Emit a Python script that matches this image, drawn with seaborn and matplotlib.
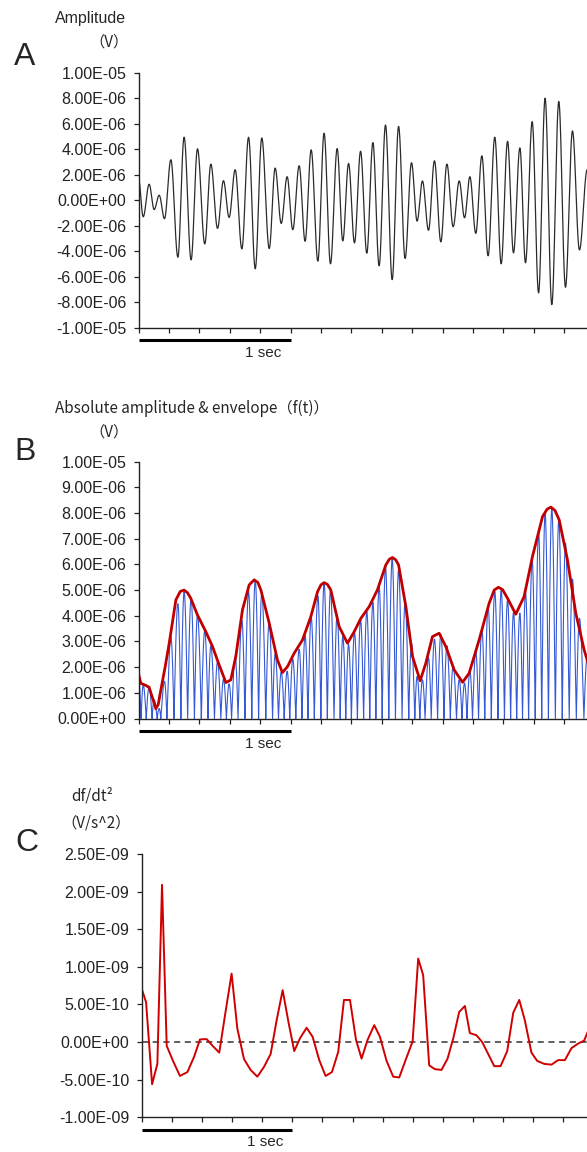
import numpy as np
import matplotlib
matplotlib.use("Agg")
import matplotlib.pyplot as plt
import matplotlib.transforms as mtransforms
from matplotlib.ticker import FuncFormatter, MultipleLocator
import seaborn as sns
import pandas as pd

sns.set_theme(style="ticks")
plt.rcParams['font.family'] = ['Liberation Sans', 'DejaVu Sans']
JP = ['Noto Sans CJK JP', 'DejaVu Sans']

# --- data ---
# A: extrema of the raw trace (time s, amplitude in 1e-6 V)
A_T = [0.000, 0.031, 0.070, 0.103, 0.136, 0.171, 0.213, 0.259, 0.300, 0.346, 0.388, 0.436,
       0.476, 0.520, 0.559, 0.596, 0.636, 0.680, 0.724, 0.768, 0.811, 0.860, 0.899, 0.939,
       0.978, 1.015, 1.057, 1.096, 1.136, 1.180, 1.221, 1.263, 1.307, 1.344, 1.382, 1.421,
       1.461, 1.502, 1.542, 1.583, 1.625, 1.669, 1.711, 1.754, 1.796, 1.833, 1.868, 1.908,
       1.947, 1.989, 2.029, 2.070, 2.110, 2.145, 2.180, 2.219, 2.259, 2.300, 2.344, 2.386,
       2.428, 2.467, 2.509, 2.546, 2.590, 2.632, 2.675, 2.719, 2.765, 2.809, 2.855, 2.901,
       2.952]
A_V = [1.69, -1.30, 1.25, -0.73, 0.39, -1.45, 3.17, -4.47, 4.94, -4.68, 4.03, -3.43,
       2.83, -2.21, 1.53, -1.35, 2.39, -3.82, 4.94, -5.38, 4.88, -3.79, 2.52, -1.82,
       1.84, -2.31, 2.70, -3.22, 3.95, -4.78, 5.25, -4.99, 4.05, -3.19, 2.88, -3.35,
       3.84, -4.16, 4.52, -5.14, 5.90, -6.23, 5.79, -4.57, 2.94, -1.64, 1.51, -2.36,
       3.09, -3.27, 2.83, -2.08, 1.51, -1.38, 1.84, -2.60, 3.48, -4.36, 4.94, -4.99,
       4.62, -4.13, 4.10, -4.91, 6.16, -7.27, 8.00, -8.18, 7.74, -6.83, 5.43, -3.90,
       2.40]

# B: envelope f(t) (time s, 1e-6 V)
ENV_T = [0.000, 0.015, 0.048, 0.070, 0.095, 0.114, 0.130, 0.147, 0.175, 0.202, 0.246, 0.275,
         0.300, 0.322, 0.344, 0.388, 0.443, 0.487, 0.531, 0.575, 0.607, 0.640, 0.684, 0.728,
         0.761, 0.785, 0.805, 0.860, 0.914, 0.947, 0.980, 1.024, 1.079, 1.134, 1.178, 1.200,
         1.221, 1.243, 1.265, 1.320, 1.375, 1.419, 1.463, 1.518, 1.572, 1.627, 1.650, 1.671,
         1.692, 1.711, 1.759, 1.803, 1.853, 1.890, 1.934, 1.978, 2.022, 2.077, 2.132, 2.175,
         2.241, 2.307, 2.340, 2.368, 2.395, 2.428, 2.482, 2.537, 2.592, 2.658, 2.688, 2.713,
         2.740, 2.768, 2.822, 2.877, 2.932, 2.965]
ENV_V = [1.75, 1.37, 1.29, 1.21, 0.75, 0.38, 0.55, 1.11, 2.00, 2.93, 4.62, 4.95,
         5.00, 4.90, 4.68, 4.03, 3.38, 2.80, 2.08, 1.40, 1.50, 2.41, 4.23, 5.20,
         5.40, 5.30, 5.01, 3.71, 2.28, 1.79, 2.02, 2.54, 3.06, 3.97, 4.94, 5.20,
         5.29, 5.22, 5.01, 3.58, 2.93, 3.38, 3.90, 4.36, 5.01, 5.98, 6.20, 6.27,
         6.18, 5.98, 4.36, 2.41, 1.47, 2.15, 3.19, 3.32, 2.80, 1.89, 1.41, 1.76,
         3.06, 4.49, 5.00, 5.11, 5.02, 4.68, 4.06, 4.75, 6.31, 7.86, 8.15, 8.23,
         8.10, 7.73, 6.18, 4.10, 2.67, 2.02]

# C: df/dt^2 (time s, 1e-10 V/s^2)
C_T = [0.000, 0.029, 0.069, 0.104, 0.135, 0.166, 0.210, 0.254, 0.303, 0.347, 0.387, 0.431,
       0.471, 0.515, 0.555, 0.597, 0.635, 0.679, 0.723, 0.768, 0.812, 0.856, 0.896, 0.936,
       0.976, 1.013, 1.051, 1.095, 1.135, 1.179, 1.221, 1.263, 1.305, 1.343, 1.383, 1.423,
       1.460, 1.500, 1.544, 1.582, 1.626, 1.670, 1.710, 1.754, 1.799, 1.836, 1.869, 1.909,
       1.947, 1.991, 2.031, 2.069, 2.108, 2.146, 2.179, 2.223, 2.261, 2.301, 2.341, 2.383,
       2.427, 2.467, 2.507, 2.544, 2.588, 2.626, 2.673, 2.721, 2.765, 2.810, 2.854, 2.898,
       2.938, 2.975]
C_V = [7.1, 5.3, -5.6, -2.9, 20.9, -0.5, -2.6, -4.5, -4.0, -2.0, 0.35, 0.4,
       -0.5, -1.4, 3.8, 9.1, 1.8, -2.25, -3.7, -4.6, -3.3, -1.6, 2.9, 6.9,
       2.5, -1.2, 0.5, 1.9, 0.7, -2.4, -4.5, -4.0, -1.3, 5.6, 5.6, 0.3,
       -2.2, 0.3, 2.25, 0.7, -2.5, -4.6, -4.7, -2.3, 0.1, 11.1, 8.9, -3.1,
       -3.6, -3.7, -2.2, 0.5, 4.0, 4.8, 1.2, 0.9, 0.0, -1.6, -3.2, -3.2,
       -1.2, 3.9, 5.6, 2.9, -1.4, -2.5, -2.9, -3.0, -2.4, -2.4, -0.8, -0.2,
       0.2, 2.0]

SCALE_BAR_SEC = 1.0


def smooth_trace(tk, vk, n=40):
    # draw a smooth half-wave between each pair of read extrema
    ts, vs = [], []
    for i in range(len(tk) - 1):
        m = 0.5 * (vk[i] + vk[i + 1])
        a = 0.5 * (vk[i] - vk[i + 1])
        s = np.linspace(0, 1, n, endpoint=False)
        if a != 0 and abs(m / a) <= 1:
            s = np.sort(np.append(s, np.arccos(-m / a) / np.pi))
        ts.append(tk[i] + (tk[i + 1] - tk[i]) * s)
        vs.append(m + a * np.cos(np.pi * s))
    ts.append([tk[-1]])
    vs.append([vk[-1]])
    return np.concatenate(ts), np.concatenate(vs)


t_raw, v_raw = smooth_trace(A_T, A_V)
df_a = pd.DataFrame({"t": t_raw, "v": v_raw * 1e-6})
df_b = pd.DataFrame({"t": t_raw, "v": np.abs(v_raw) * 1e-6})
df_env = pd.DataFrame({"t": ENV_T, "v": np.array(ENV_V) * 1e-6})
df_c = pd.DataFrame({"t": C_T, "v": np.array(C_V) * 1e-10})

W, H = 587, 1152
fig = plt.figure(figsize=(W / 100, H / 100), dpi=100)


def rect(left, top, bottom):
    return [left / W, 1 - bottom / H, 1 - left / W, (bottom - top) / H]


axA = fig.add_axes(rect(138.5, 72.7, 327.7))
axB = fig.add_axes(rect(138.5, 461.7, 718.5))
axC = fig.add_axes(rect(141.7, 854, 1117.3))

sns.lineplot(data=df_a, x="t", y="v", ax=axA, color="#2b2b2b", lw=0.9,
             sort=False, estimator=None)
sns.lineplot(data=df_b, x="t", y="v", ax=axB, color="#3559d6", lw=0.8,
             sort=False, estimator=None)
sns.lineplot(data=df_env, x="t", y="v", ax=axB, color="#c00000", lw=2.0,
             sort=False, estimator=None)
axC.axhline(0, color="#333333", lw=1.1, ls=(0, (4, 3)))
sns.lineplot(data=df_c, x="t", y="v", ax=axC, color="#d00000", lw=1.4,
             sort=False, estimator=None)


def sci_fmt(step):
    return FuncFormatter(lambda v, p: f"{(0.0 if abs(v) < step * 1e-6 else v):.2E}")


setup = [
    (axA, (-1e-5, 1e-5), 2e-6, (587 - 138.5) / 152, 340.2),
    (axB, (0, 1e-5), 1e-6, (587 - 138.5) / 152, 731.0),
    (axC, (-1e-9, 2.5e-9), 5e-10, (587 - 141.7) / 150.6, 1129.8),
]
for ax, ylim, ystep, xmax, bar_y in setup:
    ax.set_xlim(0, xmax)
    ax.set_ylim(*ylim)
    # only the ticks inside the axis range
    ax.set_yticks(np.arange(ylim[0], ylim[1] + ystep / 2, ystep))
    ax.set_xticks(np.arange(0, xmax, 0.2))
    ax.yaxis.set_major_formatter(sci_fmt(ystep))
    ax.set_ylim(*ylim)
    ax.set_xlabel("")
    ax.set_ylabel("")
    sns.despine(ax=ax)
    for side in ("left", "bottom"):
        ax.spines[side].set_color("#222222")
        ax.spines[side].set_linewidth(1.0)
    ax.tick_params(direction="out", length=3.8, width=0.9, colors="#222222",
                   labelsize=11.5, pad=5)
    ax.tick_params(axis="x", labelbottom=False)
    ax.set_facecolor("white")

    # 1 sec scale bar under the time axis
    pos = ax.get_position()
    h_px = pos.height * H
    bottom_px = (1 - pos.y0) * H
    trans = mtransforms.blended_transform_factory(ax.transData, ax.transAxes)
    ax.plot([0, SCALE_BAR_SEC], [-(bar_y - bottom_px) / h_px] * 2, transform=trans,
            color="black", lw=2.2, clip_on=False, solid_capstyle="butt")
    ax.text(0.82 * SCALE_BAR_SEC, -(bar_y + 12.5 - bottom_px) / h_px, "1 sec",
            transform=trans, ha="center", va="center", fontsize=11)


# panel letters and axis titles
def ftext(x, y, s, **kw):
    fig.text(x / W, 1 - y / H, s, va="center", **kw)


ftext(25, 57, "A", ha="center", fontsize=23)
ftext(25, 452, "B", ha="center", fontsize=23)
ftext(27, 843, "C", ha="center", fontsize=23)

ftext(55, 18, "Amplitude", ha="left", fontsize=11.5)
ftext(129, 42, "（V）", ha="right", fontsize=11, family=JP)
ftext(55, 408, "Absolute amplitude & envelope（f(t)）", ha="left", fontsize=11, family=JP)
ftext(129, 432, "（V）", ha="right", fontsize=11, family=JP)
ftext(71, 796, "df/dt²", ha="left", fontsize=11, family=JP)
ftext(131, 823, "（V/s^2）", ha="right", fontsize=11, family=JP)

fig.savefig("out.png", dpi=100, facecolor="white")
